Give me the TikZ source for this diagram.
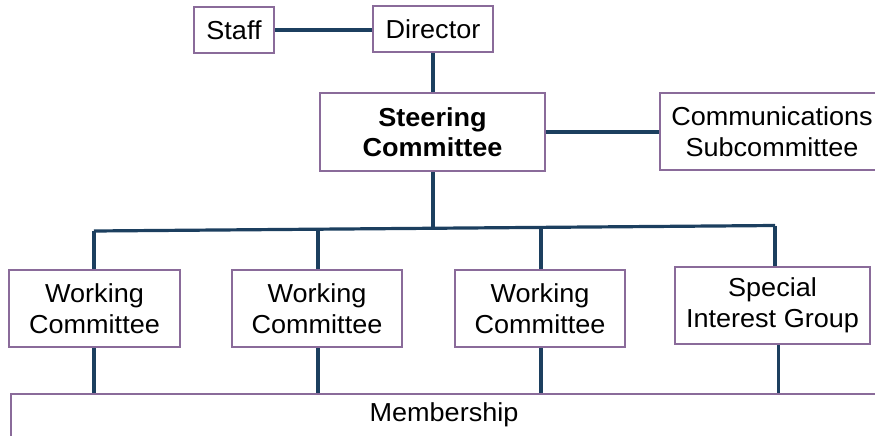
\documentclass[tikz,border=0pt]{standalone}
\usepackage{fontspec}
\setmainfont[FakeStretch=1.04]{Liberation Sans}
\definecolor{boxborder}{HTML}{8A6B9A}
\definecolor{linkcol}{HTML}{1C3F5F}
\begin{document}
\begin{tikzpicture}[x=1pt,y=-1pt,
  orgbox/.style={draw=boxborder,line width=2.2pt,fill=white,align=center,inner sep=0pt,
    font=\fontsize{26}{30.5}\selectfont},
  link/.style={draw=linkcol,line width=3.2pt}]
\useasboundingbox (0,0) rectangle (875,436);
\clip (0,0) rectangle (875,436);
\coordinate (b1) at (94,231);
\coordinate (b2) at (318,229.5);
\coordinate (bs) at (433,228.5);
\coordinate (b3) at (541,227.5);
\coordinate (b4) at (775,225.5);
\node[orgbox,minimum width=80,minimum height=46] (staff) at (234,30) {Staff};
\node[orgbox,minimum width=120,minimum height=46] (director) at (433,29) {Director};
\node[orgbox,minimum width=225,minimum height=78,font=\fontsize{26}{30.5}\selectfont\bfseries] (steer) at (432.5,132) {Steering\\Committee};
\node[orgbox,minimum width=224,minimum height=77] (comm) at (772,131.5) {Communications\\Subcommittee};
\node[orgbox,minimum width=171,minimum height=77] (wc1) at (94.5,308.5) {Working\\Committee};
\node[orgbox,minimum width=170,minimum height=77] (wc2) at (317,308.5) {Working\\Committee};
\node[orgbox,minimum width=170,minimum height=77] (wc3) at (540,308.5) {Working\\Committee};
\node[orgbox,minimum width=195,minimum height=77] (sig) at (772.5,305.5) {Special\\Interest Group};
\node[orgbox,anchor=north west,minimum width=880,minimum height=60] (mem) at (10,393) {};
\node[font=\fontsize{26}{30.5}\selectfont,inner sep=0pt] (memtext) at (444,415) {Membership};
\draw[link] (staff.east) -- (director.west |- staff.east);
\draw[link] (director.south) -- (steer.north -| director.south);
\draw[link] (steer.east) -- (comm.west |- steer.east);
\draw[link] (steer.south -| bs) -- (bs);
\draw[link] (b1) -- (b4);
\draw[link] (b1) -- (wc1.north -| b1);
\draw[link] (b2) -- (wc2.north -| b2);
\draw[link] (b3) -- (wc3.north -| b3);
\draw[link] (b4) -- (sig.north -| b4);
\draw[link] (wc1.south -| b1) -- (mem.north -| b1);
\draw[link] (wc2.south -| b2) -- (mem.north -| b2);
\draw[link] (wc3.south -| b3) -- (mem.north -| b3);
\draw[link] ([xshift=6pt]sig.south) -- ([xshift=6pt]sig.south |- mem.north);
\end{tikzpicture}
\end{document}
